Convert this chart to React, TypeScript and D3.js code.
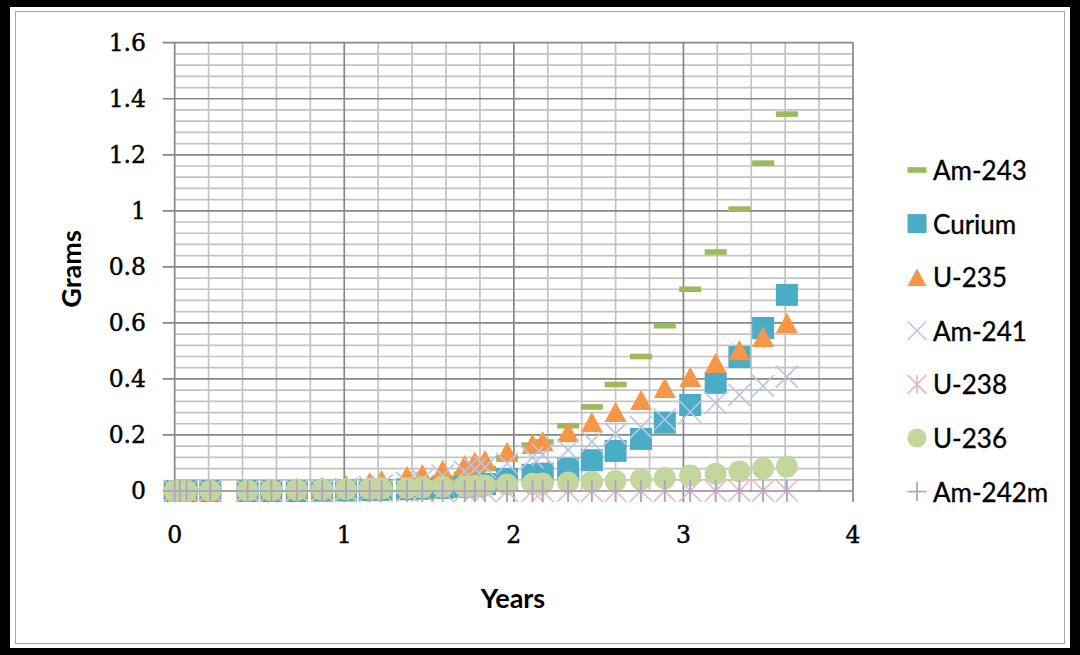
import React from "react";
import * as d3 from "d3";

// Sampling times (years) shared by every isotope series
const years = [0, 0.03, 0.07, 0.21, 0.43, 0.57, 0.72, 0.87, 1.01, 1.15, 1.22, 1.37, 1.46, 1.58, 1.71, 1.77, 1.83, 1.96, 2.11, 2.17, 2.32, 2.46, 2.6, 2.75, 2.89, 3.04, 3.19, 3.33, 3.47, 3.61];

// Grams of each isotope at those times
const am243 = [0, 0, 0, 0, 0.001, 0.002, 0.003, 0.005, 0.009, 0.014, 0.018, 0.027, 0.034, 0.046, 0.06, 0.068, 0.08, 0.118, 0.164, 0.175, 0.233, 0.3, 0.38, 0.48, 0.59, 0.72, 0.853, 1.006, 1.17, 1.345];
const curium = [0, 0, 0, 0, 0, 0, 0, 0.001, 0.002, 0.003, 0.004, 0.006, 0.008, 0.011, 0.015, 0.018, 0.025, 0.043, 0.058, 0.062, 0.079, 0.11, 0.143, 0.186, 0.244, 0.307, 0.386, 0.478, 0.582, 0.7];
const u235 = [0, 0, 0, 0.001, 0.003, 0.006, 0.012, 0.015, 0.022, 0.032, 0.04, 0.054, 0.06, 0.075, 0.093, 0.105, 0.11, 0.14, 0.168, 0.178, 0.21, 0.246, 0.282, 0.325, 0.368, 0.407, 0.457, 0.503, 0.55, 0.6];
const am241 = [0, 0, 0, 0, 0, 0, 0.002, 0.004, 0.008, 0.015, 0.02, 0.03, 0.04, 0.055, 0.07, 0.078, 0.085, 0.098, 0.12, 0.13, 0.146, 0.176, 0.205, 0.228, 0.255, 0.283, 0.314, 0.343, 0.375, 0.408];
const u238 = [0, 0, 0, 0, 0, 0, 0, 0, 0, 0, 0, 0, 0, 0, 0, 0, 0, 0, 0, 0, 0, 0, 0, 0.001, 0.001, 0.001, 0.001, 0.001, 0.001, 0.001];
const u236 = [0, 0, 0, 0.001, 0.002, 0.003, 0.004, 0.005, 0.006, 0.008, 0.009, 0.011, 0.013, 0.015, 0.017, 0.018, 0.02, 0.023, 0.026, 0.027, 0.03, 0.033, 0.036, 0.041, 0.046, 0.055, 0.062, 0.07, 0.08, 0.087];
const am242m = [0, 0, 0, 0, 0, 0, 0, 0, 0, 0, 0, 0, 0, 0, 0, 0, 0, 0, 0, 0, 0, 0, 0, 0, 0, 0, 0, 0, 0, 0];

const seriesNames = ["Am-243", "Curium", "U-235", "Am-241", "U-238", "U-236", "Am-242m"];
const seriesValues = [am243, curium, u235, am241, u238, u236, am242m];
const seriesColors = ["#9bbb59", "#4bacc6", "#f79646", "#b7c6e4", "#e6b9b8", "#c3d69b", "#b3a2c7"];
const seriesShapes = ["dash", "square", "triangle", "x", "star", "circle", "plus"];

const xTicks = [0, 1, 2, 3, 4];
const yTicks = [0, 0.2, 0.4, 0.6, 0.8, 1, 1.2, 1.4, 1.6];

const W = 1080;
const H = 655;

const x = d3.scaleLinear().domain([0, 4]).range([174.7, 853]);
const y = d3.scaleLinear().domain([0, 1.6]).range([491, 42.7]);

function Marker({ shape, color, cx, cy, s }: { shape: string; color: string; cx: number; cy: number; s: number }) {
  const h = s / 2;
  switch (shape) {
    case "dash":
      return <rect x={cx - h} y={cy - 2.8} width={s} height={5.6} fill={color} />;
    case "square":
      return <rect x={cx - h} y={cy - h} width={s} height={s} fill={color} />;
    case "triangle": {
      const th = s * 0.92;
      return <path d={`M${cx},${cy - th / 2}L${cx + h},${cy + th / 2}L${cx - h},${cy + th / 2}Z`} fill={color} />;
    }
    case "circle":
      return <circle cx={cx} cy={cy} r={h} fill={color} />;
    case "x":
      return (
        <path d={`M${cx - h},${cy - h}L${cx + h},${cy + h}M${cx - h},${cy + h}L${cx + h},${cy - h}`} stroke={color} strokeWidth={1.6} fill="none" />
      );
    case "star":
      return (
        <path
          d={`M${cx - h},${cy - h}L${cx + h},${cy + h}M${cx - h},${cy + h}L${cx + h},${cy - h}M${cx},${cy - h}L${cx},${cy + h}`}
          stroke={color}
          strokeWidth={1.6}
          fill="none"
        />
      );
    case "plus":
      return <path d={`M${cx - h},${cy}L${cx + h},${cy}M${cx},${cy - h}L${cx},${cy + h}`} stroke={color} strokeWidth={1.8} fill="none" />;
    default:
      return null;
  }
}

export default function App() {
  const minorX = d3.range(0.2, 4, 0.2).filter((v) => Math.abs(v - Math.round(v)) > 1e-6);
  const minorY = d3.range(0.04, 1.6, 0.04).filter((v) => Math.abs(v / 0.2 - Math.round(v / 0.2)) > 1e-6);
  const majorGrid = "#878787";
  const minorGrid = "#c3c3c3";
  const legendY0 = 170;
  const legendStep = 53.6;

  return (
    <div style={{ position: "absolute", left: 0, top: 0, width: W, height: H }}>
      <svg width={W} height={H} style={{ display: "block" }}>
        {/* outer frame */}
        <rect x={0} y={0} width={W} height={H} fill="#000" />
        <rect x={10} y={7} width={W - 20} height={H - 14} fill="#fff" />
        <rect x={15.5} y={11.5} width={W - 31} height={H - 23} fill="none" stroke="#a6a6a6" strokeWidth={1} />

        {/* gridlines */}
        <g strokeWidth={1.7}>
          {minorX.map((v) => (
            <line key={`mx${v}`} x1={x(v)} x2={x(v)} y1={y(1.6)} y2={y(0)} stroke={minorGrid} />
          ))}
          {minorY.map((v) => (
            <line key={`my${v}`} x1={x(0)} x2={x(4)} y1={y(v)} y2={y(v)} stroke={minorGrid} />
          ))}
          {xTicks.slice(1).map((v) => (
            <line key={`Mx${v}`} x1={x(v)} x2={x(v)} y1={y(1.6)} y2={y(0) + 11} stroke={majorGrid} />
          ))}
          {yTicks.map((v) => (
            <line key={`My${v}`} x1={x(0) - 12} x2={x(4)} y1={y(v)} y2={y(v)} stroke={majorGrid} />
          ))}
          <line x1={x(0)} x2={x(0)} y1={y(1.6)} y2={y(0) + 11} stroke={majorGrid} />
        </g>

        {/* tick labels */}
        <g fontFamily="'DejaVu Serif', serif" fontSize={23.5} fill="#000" stroke="#000" strokeWidth={0.45}>
          {yTicks.map((v) => (
            <text key={`yl${v}`} x={146} y={y(v)} textAnchor="end" dominantBaseline="central">
              {d3.format("~g")(v)}
            </text>
          ))}
          {xTicks.map((v) => (
            <text key={`xl${v}`} x={x(v)} y={535} textAnchor="middle" dominantBaseline="central">
              {v}
            </text>
          ))}
        </g>

        {/* axis titles */}
        <text x={513} y={597} textAnchor="middle" dominantBaseline="central" fontFamily="Lato, sans-serif" fontWeight={700} fontSize={27}>
          Years
        </text>
        <text
          transform={`translate(70,269) rotate(-90)`}
          textAnchor="middle"
          dominantBaseline="central"
          fontFamily="Lato, sans-serif"
          fontWeight={700}
          fontSize={27}
        >
          Grams
        </text>

        {/* series markers, drawn in legend order */}
        {seriesValues.map((vals, si) => (
          <g key={seriesNames[si]}>
            {vals.map((v, i) => (
              <Marker key={i} shape={seriesShapes[si]} color={seriesColors[si]} cx={x(years[i])} cy={y(v)} s={22} />
            ))}
          </g>
        ))}

        {/* legend */}
        <g fontFamily="Lato, sans-serif" fontSize={26} fill="#000">
          {seriesNames.map((name, i) => (
            <g key={name}>
              <Marker shape={seriesShapes[i]} color={seriesColors[i]} cx={917} cy={legendY0 + i * legendStep} s={19} />
              <text x={933} y={legendY0 + i * legendStep} dominantBaseline="central" stroke="#000" strokeWidth={0.35}>
                {name}
              </text>
            </g>
          ))}
        </g>
      </svg>
    </div>
  );
}
